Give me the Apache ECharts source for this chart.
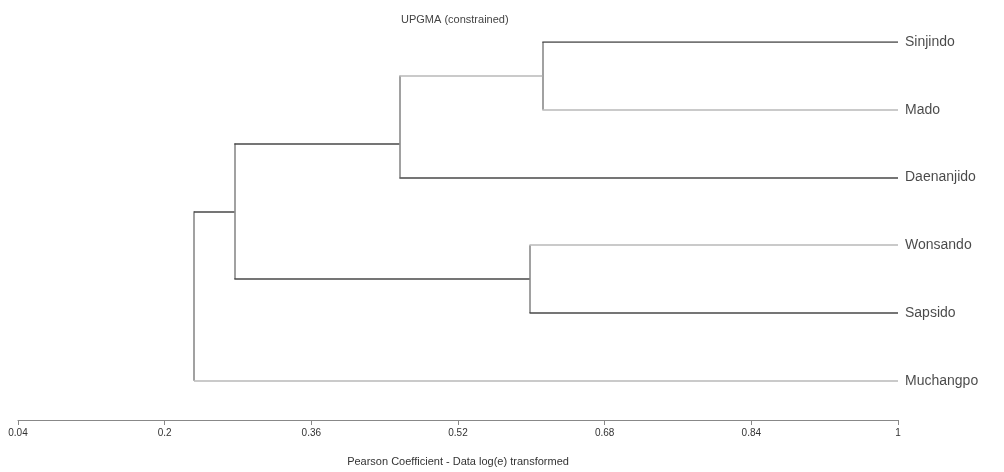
<!DOCTYPE html>
<html><head><meta charset="utf-8">
<script src="https://cdn.jsdelivr.net/npm/echarts@6/dist/echarts.min.js"></script>
<style>html,body{margin:0;padding:0;background:#fff}#c{width:1004px;height:472px}</style>
</head><body><div id="c"></div>
<script>
// ---- data ----
const leaves = ['Sinjindo', 'Mado', 'Daenanjido', 'Wonsando', 'Sapsido', 'Muchangpo'];
const leafHeight = 1;
// merges: child ids (0..5 = leaves, 6.. = earlier merges in order)
const mergeLeft = [0, 3, 6, 8, 9];
const mergeRight = [1, 4, 2, 7, 5];
const mergeHeight = [0.612, 0.598, 0.456, 0.276, 0.232];
const mergePos = [0.5, 3.5, 1.5, 2.5, 3.75]; // vertical anchor in leaf-rank units
const tickValues = [0.04, 0.2, 0.36, 0.52, 0.68, 0.84, 1];

// ---- styles (not data) ----
const DARK = '#474747', MID = '#8a8a8a', LIGHT = '#b8b8b8';
const armColor = [DARK, LIGHT, DARK, LIGHT, DARK, LIGHT, LIGHT, DARK, DARK, DARK, DARK];

const n = leaves.length;
const nodeX = [], nodeY = [];
leaves.forEach((l, i) => { nodeX[i] = leafHeight; nodeY[i] = i; });
mergeHeight.forEach((h, k) => { nodeX[n + k] = h; nodeY[n + k] = mergePos[k]; });

const segs = [];
mergeHeight.forEach((h, k) => {
  const a = mergeLeft[k], b = mergeRight[k];
  segs.push({ coords: [[h, nodeY[a]], [h, nodeY[b]]], lineStyle: { color: MID } });
  [a, b].forEach(c => {
    segs.push({ coords: [[h, nodeY[c]], [nodeX[c], nodeY[c]]], lineStyle: { color: armColor[c] } });
  });
});

const chart = echarts.init(document.getElementById('c'), null, { renderer: 'canvas' });
chart.setOption({
  animation: false,
  backgroundColor: '#fff',
  title: {
    text: 'UPGMA (constrained)', left: 396, top: 9,
    textStyle: { fontFamily: 'Liberation Sans', fontSize: 11, fontWeight: 'normal', color: '#444' }
  },
  grid: { left: 18, right: 106, top: 42, bottom: 47, containLabel: false },
  xAxis: {
    type: 'value', min: 0.04, max: 1, interval: 0.16, position: 'bottom',
    name: 'Pearson Coefficient - Data log(e) transformed',
    nameLocation: 'middle', nameGap: 36,
    nameTextStyle: { fontFamily: 'Liberation Sans', fontSize: 11, color: '#333' },
    axisLine: { show: true, onZero: false, lineStyle: { color: '#888', width: 1 } },
    axisTick: { show: true, length: 5, lineStyle: { color: '#888' }, customValues: tickValues },
    axisLabel: { fontFamily: 'Liberation Sans', fontSize: 10, color: '#333', margin: 8, customValues: tickValues,
      formatter: v => String(+v.toFixed(2)) },
    splitLine: { show: false }
  },
  yAxis: { type: 'value', inverse: true, min: 0, max: 5.58, show: false },
  series: [
    {
      type: 'lines', coordinateSystem: 'cartesian2d', polyline: false,
      lineStyle: { width: 1.6, opacity: 1 }, data: segs, silent: true
    },
    {
      type: 'scatter', symbolSize: 0, silent: true,
      data: leaves.map((l, i) => ({ value: [leafHeight, i], name: l })),
      label: { show: true, position: 'right', distance: 7, formatter: p => p.name,
        fontFamily: 'Liberation Sans', fontSize: 14, color: '#1a1a1a' }
    }
  ]
});
</script></body></html>
